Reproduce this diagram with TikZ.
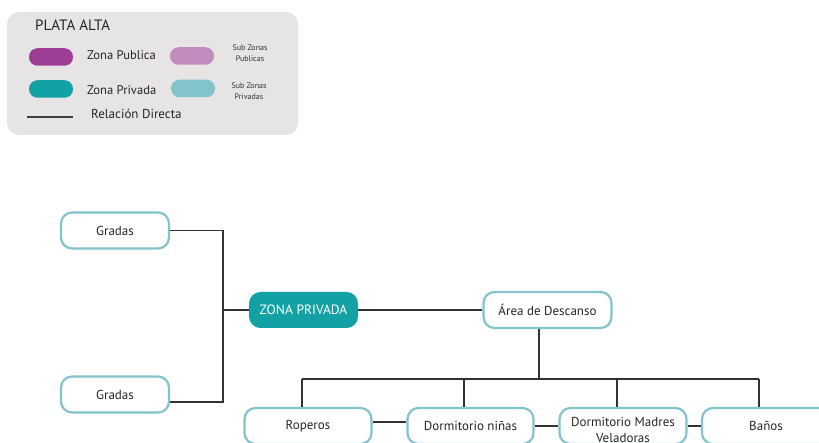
\documentclass[tikz,border=0pt]{standalone}
\usepackage{fontspec}
\setmainfont{PT Sans}
\begin{document}
\begin{tikzpicture}[x=1pt,y=-1pt,
  lnk/.style={draw=black!80,line width=1.1pt},
  subbox/.style={draw=subteal,line width=2.2pt,rounded corners=11pt,fill=white,minimum width=108pt,minimum height=36pt,inner sep=1pt,align=center,font=\fontsize{13}{14}\selectfont,text=black!85},
  pill/.style={rounded corners=8.5pt,minimum width=44pt,minimum height=17.5pt,inner sep=0pt},
  legtxt/.style={font=\fontsize{12.6}{14}\selectfont,text=black!85,anchor=west,inner sep=0pt},
  smalltxt/.style={font=\fontsize{8}{11.5}\selectfont,text=black!80,align=center,inner sep=0pt}
]
\definecolor{subteal}{HTML}{82C4C9}
\definecolor{mainteal}{HTML}{12A1A4}
\definecolor{mainpurple}{HTML}{9E3D95}
\definecolor{subpurple}{HTML}{C28CBF}
\definecolor{legbg}{HTML}{E6E4E4}
\useasboundingbox (0,0) rectangle (819,443);
\clip (0,0) rectangle (819,443);
% legend
\node[fill=legbg,rounded corners=12pt,minimum width=291pt,minimum height=123pt,inner sep=0pt] (leg) at (152.5,73.5) {};
\node[legtxt,font=\fontsize{15}{16}\selectfont] (title) at (35,25) {PLATA ALTA};
\node[pill,fill=mainpurple] (p1) at (51,57) {};
\node[legtxt] (t1) at (87,55) {Zona Publica};
\node[pill,fill=subpurple] (p2) at (192,56) {};
\node[smalltxt] (t2) at (250,53) {Sub Zonas\\Publicas};
\node[pill,fill=mainteal] (p3) at (51,89) {};
\node[legtxt] (t3) at (87,90) {Zona Privada};
\node[pill,fill=subteal] (p4) at (193,88.5) {};
\node[smalltxt] (t4) at (249,91) {Sub Zonas\\Privadas};
\coordinate (la) at (27,117);
\coordinate (lb) at (73,117);
\draw[line width=1.3pt,black!75] (la) -- (lb);
\node[legtxt,font=\fontsize{13}{14}\selectfont] (t5) at (91,114) {Relación Directa};
% nodes
\node[subbox] (g1) at (115,230.5) {Gradas};
\node[subbox] (g2) at (115,394.5) {Gradas};
\node[draw=mainteal,fill=mainteal,line width=1pt,rounded corners=11pt,minimum width=108pt,minimum height=35pt,inner sep=1pt,font=\fontsize{13.5}{14}\selectfont,text=white] (zp) at (303.5,310) {ZONA PRIVADA};
\node[subbox,minimum width=128pt] (ad) at (547.5,310) {Área de Descanso};
\node[subbox,minimum width=127pt] (rop) at (308,426) {Roperos};
\node[subbox,minimum width=126pt] (dn) at (470.5,426) {Dormitorio niñas};
\node[subbox,minimum width=127pt,font=\fontsize{13}{16}\selectfont] (dm) at (623,426) {};
\node[align=center,inner sep=0pt,font=\fontsize{13}{16}\selectfont,text=black!85] (dmt) at (623,430) {Dormitorio Madres\\Veladoras};
\node[subbox,minimum width=128pt] (ba) at (766,426) {Baños};
% connectors
\coordinate (jx) at (223,310);
\draw[lnk] (g1.east) -| (jx);
\draw[lnk] ([yshift=-7.5pt]g2.east) -| (jx);
\draw[lnk] (jx) -- (zp.west);
\draw[lnk] (zp.east) -- (ad.west);
\coordinate (bus) at (539,379);
\draw[lnk] (ad.south -| bus) -- (bus);
\draw[lnk] (302,379) -- (759,379);
\draw[lnk] (302,379) -- (rop.north -| 302,0);
\draw[lnk] (464,379) -- (dn.north -| 464,0);
\draw[lnk] (617,379) -- (dm.north -| 617,0);
\draw[lnk] (759,379) -- (ba.north -| 759,0);
\draw[lnk] ([yshift=4pt]rop.east) -- ([yshift=4pt]dn.west);
\draw[lnk] (dn.east) -- (dm.west);
\draw[lnk] (dm.east) -- (ba.west);
\end{tikzpicture}
\end{document}
